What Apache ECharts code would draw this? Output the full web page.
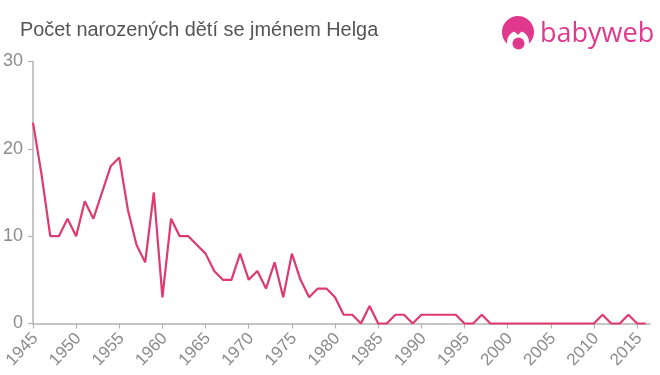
<!DOCTYPE html>
<html><head><meta charset="utf-8">
<style>html,body{margin:0;padding:0;background:#fff}#c{width:660px;height:375px}</style>
<script src="https://cdn.jsdelivr.net/npm/echarts@6/dist/echarts.min.js"></script></head>
<body><div id="c"></div>
<script>
const years = [1945,1946,1947,1948,1949,1950,1951,1952,1953,1954,1955,1956,1957,1958,1959,1960,1961,1962,1963,1964,1965,1966,1967,1968,1969,1970,1971,1972,1973,1974,1975,1976,1977,1978,1979,1980,1981,1982,1983,1984,1985,1986,1987,1988,1989,1990,1991,1992,1993,1994,1995,1996,1997,1998,1999,2000,2001,2002,2003,2004,2005,2006,2007,2008,2009,2010,2011,2012,2013,2014,2015,2016];
const counts = [23,17,10,10,12,10,14,12,15,18,19,13,9,7,15,3,12,10,10,9,8,6,5,5,8,5,6,4,7,3,8,5,3,4,4,3,1,1,0,2,0,0,1,1,0,1,1,1,1,1,0,0,1,0,0,0,0,0,0,0,0,0,0,0,0,0,1,0,0,1,0,0];
const xTicks = [1945,1950,1955,1960,1965,1970,1975,1980,1985,1990,1995,2000,2005,2010,2015];
const title = 'Počet narozených dětí se jménem Helga';
const brand = 'babyweb';
const pink = '#df3a6f', logo = '#e0388c', gray = '#8c8c8c', axisC = '#b3b3b3';
const chart = echarts.init(document.getElementById('c'), null, {renderer:'canvas'});
chart.setOption({
  animation:false,
  backgroundColor:'#fff',
  title:{text:title,left:20,top:21,padding:0,textStyle:{fontFamily:'Liberation Sans',fontSize:19.9,fontWeight:'normal',color:'#555'}},
  grid:{left:33,top:61.5,width:617,height:262,containLabel:false,outerBoundsMode:'none'},
  xAxis:{type:'value',min:1945,max:2016.5,
    axisLine:{show:true,onZero:false,lineStyle:{color:axisC,width:1.5}},
    axisTick:{show:true,length:5,customValues:xTicks,lineStyle:{color:axisC,width:1.2}},
    splitLine:{show:false},
    axisLabel:{customValues:xTicks,rotate:47,margin:10,align:'right',verticalAlign:'top',lineHeight:6,formatter:v=>String(v),color:gray,fontFamily:'Liberation Sans',fontSize:17,hideOverlap:false}},
  yAxis:{type:'value',min:0,max:30,interval:10,
    axisLine:{show:true,lineStyle:{color:axisC,width:1.5}},
    axisTick:{show:true,length:5,lineStyle:{color:axisC,width:1.2}},
    splitLine:{show:false},
    axisLabel:{margin:10,color:gray,fontFamily:'Liberation Sans',fontSize:18}},
  series:[{type:'line',data:years.map((y,i)=>[y,counts[i]]),symbol:'none',smooth:false,clip:false,lineStyle:{color:pink,width:2.2}}],
  graphic:[
    {type:'circle',shape:{cx:518,cy:32,r:16},style:{fill:logo}},
    {type:'circle',shape:{cx:518,cy:42,r:11},style:{fill:'#fff'}},
    {type:'rect',shape:{x:500,y:44,width:36,height:8},style:{fill:'#fff'}},
    {type:'polygon',shape:{points:[[513,30],[523,30],[518,35]]},style:{fill:logo}},
    {type:'circle',shape:{cx:518.5,cy:43.5,r:6},style:{fill:logo}},
    {type:'text',style:{x:540,y:21,text:brand,fill:logo,fontFamily:'Open Sans',fontSize:27,fontWeight:400}}
  ]
});
</script></body></html>
